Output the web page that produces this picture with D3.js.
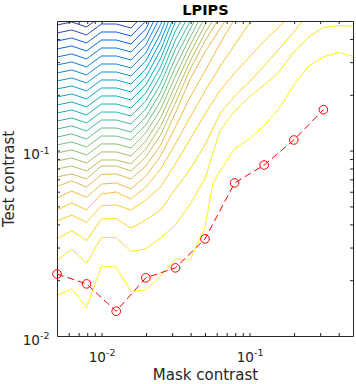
<!DOCTYPE html>
<html><head><meta charset="utf-8">
<script src="https://cdn.jsdelivr.net/npm/d3@7"></script>
<style>
html,body{margin:0;padding:0;background:#fff;}
svg{display:block;}
text{font-family:"DejaVu Sans",sans-serif;fill:#262626;}
</style></head><body>
<svg id="chart" width="356" height="384"></svg>
<script>
// ---- data ----
const maskContrast = [0.005,0.00629,0.00792,0.00998,0.01256,0.01581,0.01991,0.02506,0.03155,0.03972,0.05,0.06295,0.07924,0.09976,0.1256,0.1581,0.1991,0.2506,0.3155,0.3972,0.5];

// human thresholds (red)
const dataMask = [0.005,0.00792,0.01256,0.01991,0.03155,0.05,0.07924,0.1256,0.1991,0.3155];
const dataTest = [0.0216,0.0191,0.0136,0.0206,0.0233,0.0334,0.0669,0.0836,0.1141,0.1662];

// contour level 1 (lowest) as explicit [mask, test] vertices
const level1Points = [[0.005,0.01654],[0.00629,0.01793],[0.00792,0.01425],[0.00998,0.02376],[0.01256,0.02356],[0.01581,0.01738],[0.01991,0.01771],[0.02506,0.02107],[0.03155,0.02602],[0.03972,0.02569],[0.05,0.03872],[0.05646,0.0663],[0.06295,0.0776],[0.07924,0.1020],[0.09976,0.1155],[0.1256,0.1374],[0.1581,0.1677],[0.1991,0.2259],[0.2506,0.2860],[0.3155,0.3198],[0.3972,0.3390],[0.5,0.3226]];

// contour levels 2..27: test contrast at successive mask contrasts (maskContrast[0], [1], ...)
const contourTest = [
 [0.0255,0.0295,0.0247,0.0341,0.0339,0.0286,0.0295,0.0338,0.0397,0.0515,0.0703,0.1276,0.1636,0.1946,0.2259,0.2655,0.3403,0.4101,0.4624,0.4717,0.4682],
 [0.0334,0.0370,0.0327,0.0428,0.0430,0.0382,0.0422,0.0478,0.0621,0.0796,0.1072,0.1575,0.1970,0.2345,0.2860,0.3532,0.4363,0.5522],
 [0.0417,0.0449,0.0410,0.0504,0.0509,0.0478,0.0542,0.0636,0.0847,0.1155,0.1575,0.2097,0.2622,0.3198,0.3901,0.4642,0.5661],
 [0.0478,0.0522,0.0478,0.0583,0.0598,0.0548,0.0636,0.0796,0.1085,0.1518,0.2097,0.2824,0.3712,0.4878,0.6254],
 [0.0555,0.0605,0.0559,0.0660,0.0669,0.0621,0.0729,0.0935,0.1341,0.1946,0.2688,0.3758,0.5128],
 [0.0640,0.0686,0.0636,0.0743,0.0748,0.0703,0.0826,0.1072,0.1595,0.2433,0.3403,0.4529,0.5951],
 [0.0721,0.0748,0.0703,0.0826,0.0826,0.0776,0.0924,0.1214,0.1806,0.2755,0.3901,0.5257],
 [0.0796,0.0826,0.0777,0.0890,0.0890,0.0847,0.1021,0.1349,0.2020,0.3043,0.4309,0.5804],
 [0.0879,0.0912,0.0857,0.0983,0.0983,0.0935,0.1127,0.1499,0.2259,0.3361,0.4759,0.641],
 [0.0971,0.1008,0.0947,0.1086,0.1086,0.1033,0.1245,0.1666,0.2526,0.3712,0.5257],
 [0.1072,0.1113,0.1046,0.1198,0.1198,0.1141,0.1375,0.1851,0.2824,0.4100,0.5804],
 [0.1184,0.1229,0.1155,0.1324,0.1324,0.1260,0.1518,0.2057,0.3158,0.4529,0.641],
 [0.1308,0.1358,0.1276,0.1462,0.1462,0.1392,0.1677,0.2286,0.3532,0.5002,0.708],
 [0.1444,0.1499,0.1409,0.1614,0.1614,0.1537,0.1852,0.2540,0.3949,0.5525],
 [0.1595,0.1656,0.1556,0.1783,0.1783,0.1697,0.2045,0.2822,0.4416,0.61],
 [0.1762,0.1829,0.1719,0.1970,0.1970,0.1875,0.2259,0.3136,0.4938,0.674],
 [0.1946,0.2020,0.1898,0.2176,0.2176,0.2071,0.2495,0.3485,0.5522],
 [0.2149,0.2231,0.2096,0.2403,0.2403,0.2287,0.2755,0.3872,0.617],
 [0.2374,0.2464,0.2316,0.2654,0.2654,0.2526,0.3044,0.4303,0.69],
 [0.2622,0.2722,0.2558,0.2931,0.2931,0.2790,0.3362,0.4781,0.77],
 [0.2896,0.3006,0.2825,0.3238,0.3238,0.3082,0.3713,0.5313],
 [0.3198,0.3320,0.3120,0.3575,0.3575,0.3403,0.4100,0.5912],
 [0.3532,0.3666,0.3445,0.3949,0.3949,0.3758,0.4529,0.657],
 [0.3901,0.4049,0.3805,0.4361,0.4361,0.4151,0.5002,0.73],
 [0.4309,0.4473,0.4203,0.4817,0.4817,0.4585,0.5525],
 [0.4759,0.4940,0.4642,0.532,0.532,0.5064,0.61]
];

const xTicksMajor = [0.01, 0.1];
const xTickLabels = ["-2", "-1"];
const yTicksMajor = [0.01, 0.1];
const yTickLabels = ["-2", "-1"];
const xTicksAll = [0.006,0.007,0.008,0.009,0.01,0.02,0.03,0.04,0.05,0.06,0.07,0.08,0.09,0.1,0.2,0.3,0.4];
const yTicksAll = [0.02,0.03,0.04,0.05,0.06,0.07,0.08,0.09,0.1,0.2,0.3,0.4];

// ---- styling: parula colormap ----
const parulaRGB = [
[0.2081,0.1663,0.5292],[0.2116,0.1898,0.5777],[0.2123,0.2138,0.6270],[0.2081,0.2386,0.6771],
[0.1959,0.2645,0.7279],[0.1707,0.2919,0.7792],[0.1253,0.3242,0.8303],[0.0591,0.3598,0.8683],
[0.0117,0.3875,0.8820],[0.0060,0.4086,0.8828],[0.0165,0.4266,0.8786],[0.0329,0.4430,0.8720],
[0.0498,0.4586,0.8641],[0.0629,0.4737,0.8554],[0.0723,0.4887,0.8467],[0.0779,0.5040,0.8384],
[0.0793,0.5200,0.8312],[0.0749,0.5375,0.8263],[0.0641,0.5570,0.8240],[0.0488,0.5772,0.8228],
[0.0343,0.5966,0.8199],[0.0265,0.6137,0.8135],[0.0239,0.6287,0.8038],[0.0231,0.6418,0.7913],
[0.0228,0.6535,0.7768],[0.0267,0.6642,0.7607],[0.0384,0.6743,0.7436],[0.0590,0.6838,0.7254],
[0.0843,0.6928,0.7062],[0.1133,0.7015,0.6859],[0.1453,0.7098,0.6646],[0.1801,0.7177,0.6424],
[0.2178,0.7250,0.6193],[0.2586,0.7317,0.5954],[0.3022,0.7376,0.5712],[0.3482,0.7424,0.5473],
[0.3953,0.7459,0.5244],[0.4420,0.7481,0.5033],[0.4871,0.7491,0.4840],[0.5300,0.7491,0.4661],
[0.5709,0.7485,0.4494],[0.6099,0.7473,0.4337],[0.6473,0.7456,0.4188],[0.6834,0.7435,0.4044],
[0.7184,0.7411,0.3905],[0.7525,0.7384,0.3768],[0.7858,0.7356,0.3633],[0.8185,0.7327,0.3498],
[0.8507,0.7299,0.3360],[0.8824,0.7274,0.3217],[0.9139,0.7258,0.3063],[0.9450,0.7261,0.2886],
[0.9739,0.7314,0.2666],[0.9938,0.7455,0.2403],[0.9990,0.7653,0.2164],[0.9955,0.7861,0.1967],
[0.9880,0.8066,0.1794],[0.9789,0.8271,0.1633],[0.9697,0.8481,0.1475],[0.9626,0.8705,0.1309],
[0.9589,0.8949,0.1132],[0.9598,0.9218,0.0948],[0.9661,0.9514,0.0755],[0.9763,0.9831,0.0538]];
const parulaHex = parulaRGB.map(c => d3.rgb(c[0] * 255, c[1] * 255, c[2] * 255).formatHex());
const parula = d3.scaleLinear().domain(parulaHex.map((_, i) => i / 63)).range(parulaHex).interpolate(d3.interpolateRgb);
const colorFor = L => parula(Math.max(0, Math.min(1, 1 - (L - 1) / 27)));

// ---- chart ----
const svg = d3.select('#chart');
const x = d3.scaleLog().domain([0.005, 0.5]).range([57, 353]);
const y = d3.scaleLog().domain([0.01, 0.5]).range([336, 21]);

svg.append('clipPath').attr('id', 'clip').append('rect')
  .attr('x', 57.5).attr('y', 21.5).attr('width', 296).attr('height', 315);

const gc = svg.append('g').attr('clip-path', 'url(#clip)');
const line = d3.line().x(d => x(d[0])).y(d => y(d[1]));

const lines = [{ level: 1, pts: level1Points }].concat(
  contourTest.map((arr, i) => ({ level: i + 2, pts: arr.map((t, j) => [maskContrast[j], t]) }))
);
lines.forEach(c => {
  gc.append('path').attr('d', line(c.pts)).attr('fill', 'none')
    .attr('stroke', colorFor(c.level)).attr('stroke-width', 1);
});

// axes (box with inward ticks)
const axisColor = '#262626';
function styleAxis(g) {
  g.selectAll('path,line').attr('stroke', axisColor);
  g.selectAll('text').remove();
}
svg.append('g').attr('transform', 'translate(0,336)')
  .call(d3.axisBottom(x).tickValues(xTicksAll).tickSize(-3).tickSizeOuter(0).tickFormat('')).call(styleAxis);
svg.append('g').attr('transform', 'translate(0,21)')
  .call(d3.axisTop(x).tickValues(xTicksAll).tickSize(-3).tickSizeOuter(0).tickFormat('')).call(styleAxis);
svg.append('g').attr('transform', 'translate(57,0)')
  .call(d3.axisLeft(y).tickValues(yTicksAll).tickSize(-3).tickSizeOuter(0).tickFormat('')).call(styleAxis);
svg.append('g').attr('transform', 'translate(353,0)')
  .call(d3.axisRight(y).tickValues(yTicksAll).tickSize(-3).tickSizeOuter(0).tickFormat('')).call(styleAxis);

// tick labels
xTicksMajor.forEach((v, i) => {
  const t = svg.append('text').attr('x', x(v) + 0.5).attr('y', 361.5)
    .attr('text-anchor', 'middle').attr('font-size', 13.6);
  t.append('tspan').text('10');
  t.append('tspan').attr('dy', -5.5).attr('font-size', 9.5).text(xTickLabels[i]);
});
yTicksMajor.forEach((v, i) => {
  const t = svg.append('text').attr('x', 49.5).attr('y', y(v) + 8.5)
    .attr('text-anchor', 'end').attr('font-size', 13.6);
  t.append('tspan').text('10');
  t.append('tspan').attr('dy', -5.5).attr('font-size', 9.5).text(yTickLabels[i]);
});

// red data
const pts = dataMask.map((m, i) => [m, dataTest[i]]);
svg.append('path').attr('d', line(pts)).attr('fill', 'none')
  .attr('stroke', '#ff0000').attr('stroke-width', 1).attr('stroke-dasharray', '7,4');
svg.selectAll('circle.m').data(pts).enter().append('circle')
  .attr('cx', d => x(d[0])).attr('cy', d => y(d[1])).attr('r', 4.3)
  .attr('fill', 'none').attr('stroke', '#ff0000').attr('stroke-width', 1);

// labels
svg.append('text').attr('x', 205.5).attr('y', 15).attr('text-anchor', 'middle')
  .attr('font-size', 14.5).attr('font-weight', 'bold').style('fill', '#000').text('LPIPS');
svg.append('text').attr('x', 205.5).attr('y', 380).attr('text-anchor', 'middle')
  .attr('font-size', 15).text('Mask contrast');
svg.append('text').attr('transform', 'translate(13.5,179) rotate(-90)').attr('text-anchor', 'middle')
  .attr('font-size', 15).text('Test contrast');
</script>
</body></html>
